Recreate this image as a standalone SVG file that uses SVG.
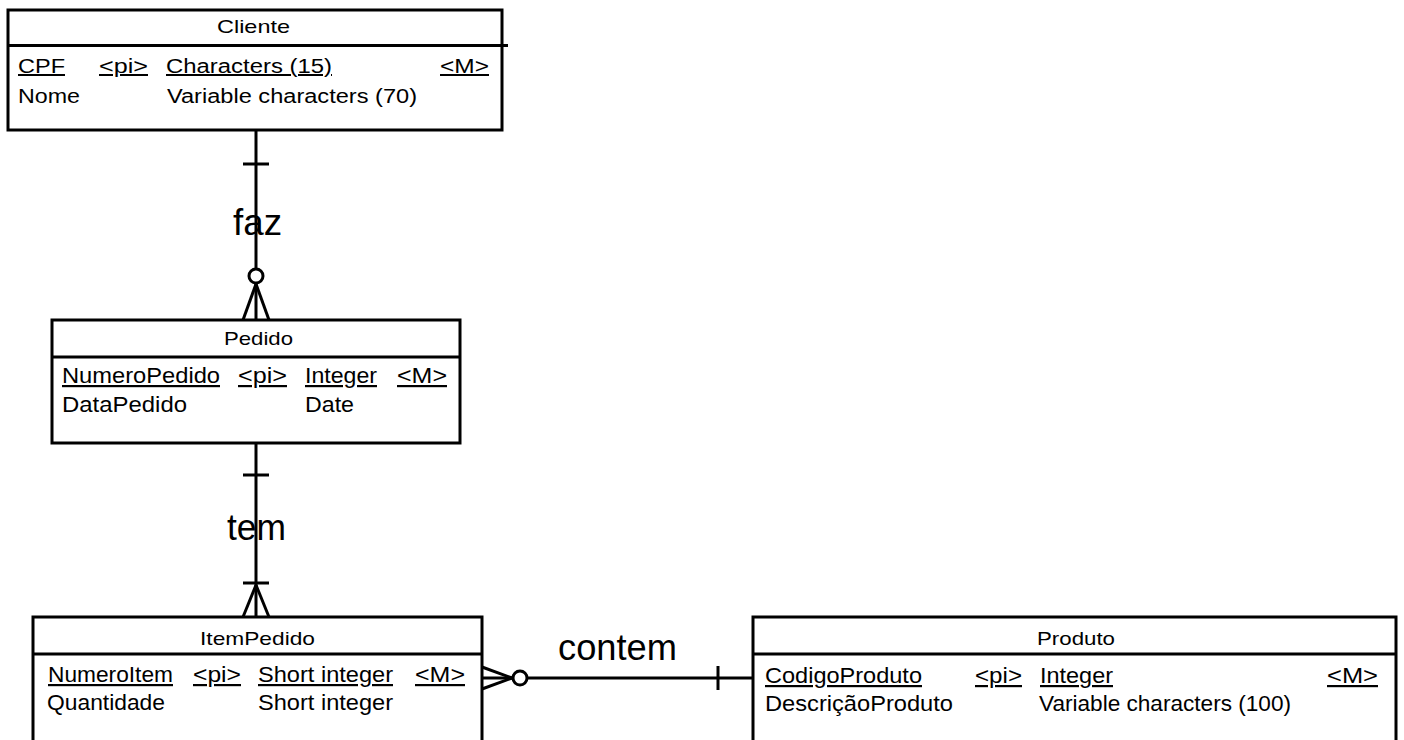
<svg xmlns="http://www.w3.org/2000/svg" width="1404" height="740" viewBox="0 0 1404 740">
<style>
.box{fill:#fff;stroke:#000;stroke-width:3}
.sep{stroke:#000;stroke-width:3}
.ln{stroke:#000;stroke-width:3;fill:none}
.circ{fill:#fff;stroke:#000;stroke-width:3}
text{font-family:"Liberation Sans",Arial,sans-serif;fill:#000}
.t{font-size:19px}
.r{font-size:22px}
.rc{font-size:20px}
.u{text-decoration:underline}
.lbl{font-size:36px}
</style>
<rect width="1404" height="740" fill="#fff"/>
<g id="connectors">
  <g id="faz">
    <line class="ln" x1="256" y1="130" x2="256" y2="269"/>
    <line class="ln" x1="243" y1="164" x2="269" y2="164"/>
    <circle class="circ" cx="256" cy="276" r="7"/>
    <line class="ln" x1="256" y1="284" x2="256" y2="320"/>
    <line class="ln" x1="256" y1="284" x2="243" y2="320"/>
    <line class="ln" x1="256" y1="284" x2="269" y2="320"/>
    <text class="lbl" x="233" y="235" textLength="49" lengthAdjust="spacingAndGlyphs">faz</text>
  </g>
  <g id="tem">
    <line class="ln" x1="256" y1="443" x2="256" y2="617"/>
    <line class="ln" x1="243" y1="475" x2="269" y2="475"/>
    <line class="ln" x1="243" y1="583" x2="269" y2="583"/>
    <line class="ln" x1="256" y1="585" x2="243" y2="617"/>
    <line class="ln" x1="256" y1="585" x2="269" y2="617"/>
    <text class="lbl" x="227" y="540" textLength="59" lengthAdjust="spacingAndGlyphs">tem</text>
  </g>
  <g id="contem">
    <line class="ln" x1="482" y1="678" x2="753" y2="678"/>
    <line class="ln" x1="512" y1="678" x2="482" y2="667"/>
    <line class="ln" x1="512" y1="678" x2="482" y2="689"/>
    <circle class="circ" cx="520" cy="678" r="7"/>
    <line class="ln" x1="718" y1="666" x2="718" y2="690"/>
    <text class="lbl" x="558" y="660" textLength="119" lengthAdjust="spacingAndGlyphs">contem</text>
  </g>
</g>
<g id="Cliente">
  <rect class="box" x="8" y="10" width="494" height="120"/>
  <line class="sep" x1="8" y1="45.5" x2="508" y2="45.5"/>
  <text class="t" x="217" y="33" textLength="73" lengthAdjust="spacingAndGlyphs">Cliente</text>
  <text class="rc u" x="18" y="73" textLength="47" lengthAdjust="spacingAndGlyphs">CPF</text>
  <text class="rc u" x="99" y="73" textLength="49" lengthAdjust="spacingAndGlyphs">&lt;pi&gt;</text>
  <text class="rc u" x="166" y="73" textLength="166" lengthAdjust="spacingAndGlyphs">Characters (15)</text>
  <text class="rc u" x="440" y="73" textLength="49" lengthAdjust="spacingAndGlyphs">&lt;M&gt;</text>
  <text class="rc" x="18" y="103" textLength="62" lengthAdjust="spacingAndGlyphs">Nome</text>
  <text class="rc" x="167" y="103" textLength="250" lengthAdjust="spacingAndGlyphs">Variable characters (70)</text>
</g>
<g id="Pedido">
  <rect class="box" x="52" y="320" width="408" height="123"/>
  <line class="sep" x1="52" y1="357" x2="460" y2="357"/>
  <text class="t" x="224" y="345" textLength="69" lengthAdjust="spacingAndGlyphs">Pedido</text>
  <text class="r u" x="62" y="383" textLength="158" lengthAdjust="spacingAndGlyphs">NumeroPedido</text>
  <text class="r u" x="238" y="383" textLength="49" lengthAdjust="spacingAndGlyphs">&lt;pi&gt;</text>
  <text class="r u" x="305" y="383" textLength="72" lengthAdjust="spacingAndGlyphs">Integer</text>
  <text class="r u" x="397" y="383" textLength="50" lengthAdjust="spacingAndGlyphs">&lt;M&gt;</text>
  <text class="r" x="62" y="412" textLength="125" lengthAdjust="spacingAndGlyphs">DataPedido</text>
  <text class="r" x="305" y="412" textLength="49" lengthAdjust="spacingAndGlyphs">Date</text>
</g>
<g id="ItemPedido">
  <rect class="box" x="33" y="617" width="449" height="140"/>
  <line class="sep" x1="33" y1="654" x2="482" y2="654"/>
  <text class="t" x="200" y="645" textLength="115" lengthAdjust="spacingAndGlyphs">ItemPedido</text>
  <text class="r u" x="48" y="682" textLength="125" lengthAdjust="spacingAndGlyphs">NumeroItem</text>
  <text class="r u" x="193" y="682" textLength="48" lengthAdjust="spacingAndGlyphs">&lt;pi&gt;</text>
  <text class="r u" x="258" y="682" textLength="135" lengthAdjust="spacingAndGlyphs">Short integer</text>
  <text class="r u" x="415" y="682" textLength="50" lengthAdjust="spacingAndGlyphs">&lt;M&gt;</text>
  <text class="r" x="47" y="710" textLength="118" lengthAdjust="spacingAndGlyphs">Quantidade</text>
  <text class="r" x="258" y="710" textLength="135" lengthAdjust="spacingAndGlyphs">Short integer</text>
</g>
<g id="Produto">
  <rect class="box" x="753" y="617" width="643" height="140"/>
  <line class="sep" x1="753" y1="654" x2="1396" y2="654"/>
  <text class="t" x="1037" y="645" textLength="78" lengthAdjust="spacingAndGlyphs">Produto</text>
  <text class="r u" x="765" y="683" textLength="157" lengthAdjust="spacingAndGlyphs">CodigoProduto</text>
  <text class="r u" x="975" y="683" textLength="47" lengthAdjust="spacingAndGlyphs">&lt;pi&gt;</text>
  <text class="r u" x="1040" y="683" textLength="73" lengthAdjust="spacingAndGlyphs">Integer</text>
  <text class="r u" x="1327" y="683" textLength="51" lengthAdjust="spacingAndGlyphs">&lt;M&gt;</text>
  <text class="r" x="765" y="711" textLength="188" lengthAdjust="spacingAndGlyphs">DescriçãoProduto</text>
  <text class="r" x="1039" y="711" textLength="252" lengthAdjust="spacingAndGlyphs">Variable characters (100)</text>
</g>
</svg>
